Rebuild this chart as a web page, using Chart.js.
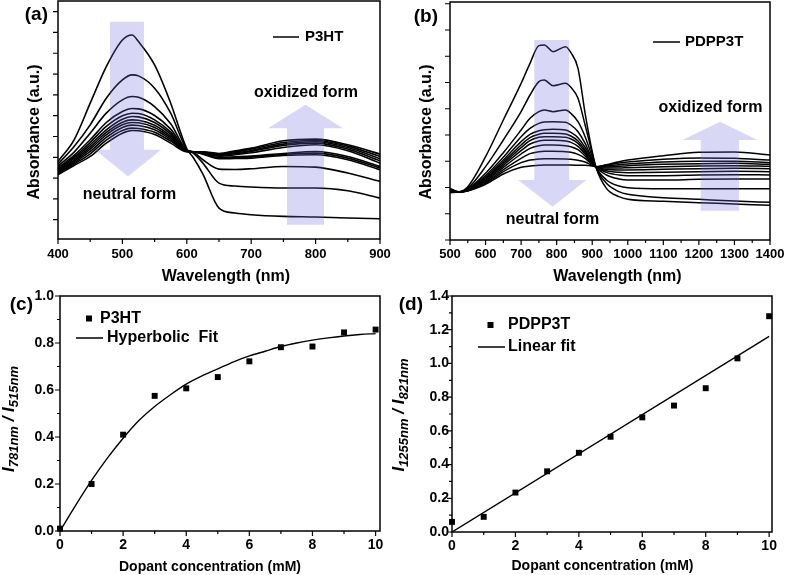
<!DOCTYPE html>
<html>
<head>
<meta charset="utf-8">
<title>P3HT / PDPP3T doping spectra</title>
<script src="https://cdn.jsdelivr.net/npm/chart.js@4.4.1/dist/chart.umd.min.js"></script>
<style>
  body { margin: 0; background: #fff; }
  #fig { position: relative; width: 787px; height: 575px; overflow: hidden; }
  #fig canvas { position: absolute; }
</style>
</head>
<body>
<div id="fig">
  <canvas id="chartA" width="400" height="290" style="left:0;top:0"></canvas>
  <canvas id="chartB" width="397" height="290" style="left:390px;top:0"></canvas>
  <canvas id="chartC" width="400" height="285" style="left:0;top:290px"></canvas>
  <canvas id="chartD" width="397" height="285" style="left:390px;top:290px"></canvas>
</div>
<script>
const FONT = '"Liberation Sans", Arial, Helvetica, sans-serif';

// (a) P3HT absorbance (arbitrary units), neutral -> oxidized
const p3htWavelength = [400, 425, 450, 475, 500, 515, 525, 550, 575, 600, 610, 625, 650, 675, 700, 750, 800, 850, 900];
const p3htCurves = [
  [300, 365, 475, 585, 665, 680, 660, 590, 475, 338, 312, 262, 160, 145, 140, 135, 133, 130, 128],
  [292, 345, 410, 490, 545, 560, 557, 520, 445, 336, 325, 295, 235, 226, 223, 220, 220, 212, 190],
  [286, 328, 385, 445, 485, 495, 493, 465, 413, 334, 328, 305, 277, 276, 278, 285, 283, 265, 240],
  [281, 318, 365, 417, 450, 459, 458, 438, 397, 333, 329, 322, 308, 309, 310, 318, 320, 305, 275],
  [277, 313, 357, 405, 437, 445, 444, 425, 388, 332, 329, 323, 310, 311, 313, 321, 325, 310, 280],
  [274, 309, 350, 395, 427, 435, 434, 417, 382, 332, 329, 324, 312, 314, 316, 324, 330, 315, 285],
  [271, 304, 343, 387, 418, 425, 424, 409, 376, 331, 329, 325, 316, 320, 326, 342, 350, 332, 295],
  [268, 300, 337, 380, 410, 417, 416, 402, 371, 331, 329, 326, 318, 323, 330, 348, 355, 337, 302],
  [265, 296, 330, 372, 402, 409, 408, 395, 366, 330, 329, 327, 320, 326, 333, 352, 359, 342, 308],
  [262, 292, 323, 364, 393, 400, 399, 388, 361, 330, 329, 328, 322, 329, 337, 357, 363, 346, 315],
  [260, 288, 315, 355, 385, 393, 392, 381, 355, 329, 329, 329, 324, 332, 340, 362, 367, 350, 322]
];

// (b) PDPP3T absorbance (arbitrary units), neutral -> oxidized
const pdppWavelength = [500, 525, 550, 600, 650, 700, 725, 750, 765, 790, 825, 840, 860, 880, 900, 910, 940, 975, 1000, 1100, 1200, 1300, 1400];
const pdppCurves = [
  [155, 145, 160, 250, 360, 470, 530, 583, 585, 565, 580, 562, 515, 380, 265, 220, 155, 130, 122, 116, 112, 108, 104],
  [150, 144, 155, 220, 300, 385, 435, 475, 480, 463, 470, 458, 425, 345, 260, 220, 170, 145, 137, 127, 122, 117, 113],
  [148, 144, 153, 200, 262, 330, 365, 385, 390, 385, 390, 380, 355, 310, 250, 220, 180, 162, 157, 154, 154, 154, 154],
  [147, 144, 152, 193, 248, 310, 335, 350, 354, 355, 353, 345, 325, 290, 242, 220, 195, 183, 180, 180, 182, 183, 183],
  [146, 144, 151, 188, 240, 295, 317, 328, 331, 332, 330, 323, 307, 278, 238, 220, 203, 195, 193, 193, 195, 196, 195],
  [146, 144, 150, 185, 234, 285, 307, 317, 320, 320, 318, 312, 297, 270, 235, 220, 208, 203, 202, 203, 205, 206, 205],
  [145, 144, 150, 182, 229, 277, 298, 308, 310, 310, 308, 303, 290, 264, 232, 220, 212, 210, 210, 212, 214, 215, 214],
  [145, 144, 149, 179, 224, 268, 288, 297, 299, 299, 297, 293, 281, 258, 230, 220, 216, 216, 217, 220, 222, 223, 221],
  [144, 144, 149, 176, 218, 258, 275, 283, 285, 285, 283, 280, 271, 252, 228, 220, 219, 221, 223, 227, 229, 230, 227],
  [144, 144, 148, 173, 211, 245, 259, 265, 266, 266, 265, 263, 257, 245, 226, 220, 222, 226, 228, 234, 236, 236, 232],
  [143, 144, 148, 170, 205, 232, 240, 243, 244, 244, 243, 242, 239, 234, 224, 220, 225, 231, 234, 242, 246, 245, 240],
  [142, 144, 147, 167, 198, 218, 222, 224, 225, 225, 225, 225, 224, 224, 222, 220, 226, 235, 240, 253, 263, 264, 255]
];

// (c) P3HT ratio vs dopant concentration
const dopant = [0, 1, 2, 3, 4, 5, 6, 7, 8, 9, 10];
const p3htRatio = [0.01, 0.20, 0.41, 0.575, 0.607, 0.655, 0.722, 0.782, 0.785, 0.845, 0.857];
const p3htFitX = [0, 0.5, 1, 1.5, 2, 2.5, 3, 3.5, 4, 4.5, 5, 5.5, 6, 6.5, 7, 7.5, 8, 8.5, 9, 9.5, 10];
const p3htFitY = [0, 0.11, 0.215, 0.31, 0.395, 0.47, 0.53, 0.58, 0.625, 0.66, 0.69, 0.72, 0.745, 0.765, 0.785, 0.8, 0.812, 0.822, 0.83, 0.836, 0.84];

// (d) PDPP3T ratio vs dopant concentration
const pdppRatio = [0.06, 0.09, 0.234, 0.36, 0.47, 0.565, 0.68, 0.75, 0.853, 1.03, 1.28];
const pdppFitX = [0, 10];
const pdppFitY = [0, 1.16];

const panelDecor = {
  id: 'panelDecor',
  afterDatasetsDraw(chart, args, opts) {
    const ctx = chart.ctx;
    const X = v => chart.scales.x.getPixelForValue(v);
    const Y = v => chart.scales.y.getPixelForValue(v);
    (opts.arrows || []).forEach(a => {
      const mid = (a.head[0] + a.head[1]) / 2;
      const pts = [[a.shaft[0], a.end], [a.shaft[1], a.end], [a.shaft[1], a.base], [a.head[1], a.base],
                   [mid, a.tip], [a.head[0], a.base], [a.shaft[0], a.base]];
      ctx.save();
      ctx.fillStyle = 'rgba(110,110,220,0.27)';
      ctx.beginPath();
      pts.forEach((p, i) => i ? ctx.lineTo(X(p[0]), Y(p[1])) : ctx.moveTo(X(p[0]), Y(p[1])));
      ctx.closePath();
      ctx.fill();
      ctx.restore();
    });
  },
  afterDraw(chart, args, opts) {
    const ctx = chart.ctx, area = chart.chartArea;
    ctx.save();
    ctx.strokeStyle = '#000';
    ctx.fillStyle = '#000';
    ctx.lineWidth = 1.5;
    ctx.strokeRect(area.left, area.top, area.right - area.left, area.bottom - area.top);

    ctx.lineWidth = 1.2;
    (opts.ticks || []).forEach(t => {
      const s = chart.scales[t.axis];
      ctx.beginPath();
      for (let k = Math.ceil(s.min / t.step - 1e-6); k * t.step <= s.max + 1e-6; k++) {
        const v = k * t.step, r = v / t.major;
        const len = Math.abs(r - Math.round(r)) < 1e-6 ? t.len : t.minorLen;
        const p = s.getPixelForValue(v);
        if (t.axis === 'x') { ctx.moveTo(p, area.bottom); ctx.lineTo(p, area.bottom + len); }
        else { ctx.moveTo(area.left, p); ctx.lineTo(area.left - len, p); }
      }
      ctx.stroke();
    });

    ctx.lineWidth = 1.5;
    (opts.lines || []).forEach(l => {
      ctx.beginPath(); ctx.moveTo(l.x0, l.y); ctx.lineTo(l.x1, l.y); ctx.stroke();
    });
    (opts.squares || []).forEach(q => ctx.fillRect(q.x - q.size / 2, q.y - q.size / 2, q.size, q.size));

    ctx.textBaseline = 'middle';
    (opts.texts || []).forEach(t => {
      ctx.save();
      ctx.font = t.font;
      ctx.textAlign = t.align || 'center';
      ctx.translate(t.x, t.y);
      if (t.rot) ctx.rotate(t.rot);
      ctx.fillText(t.text, 0, 0);
      ctx.restore();
    });

    const st = opts.subTitle;
    if (st) {
      ctx.save();
      ctx.translate(st.x, st.y);
      ctx.rotate(-Math.PI / 2);
      ctx.textBaseline = 'alphabetic';
      ctx.textAlign = 'left';
      let total = 0;
      st.parts.forEach(p => { ctx.font = p[1] ? st.sub : st.main; total += ctx.measureText(p[0]).width; });
      let cx = -total / 2;
      st.parts.forEach(p => {
        ctx.font = p[1] ? st.sub : st.main;
        ctx.fillText(p[0], cx, p[1] ? st.shift : 0);
        cx += ctx.measureText(p[0]).width;
      });
      ctx.restore();
    }
    ctx.restore();
  }
};
Chart.register(panelDecor);

function axis(c, horizontal) {
  return {
    type: 'linear', min: c.min, max: c.max,
    afterFit: s => {
      if (horizontal) s.height = c.size; else s.width = c.size;
      s.paddingLeft = 0; s.paddingRight = 0; s.paddingTop = 0; s.paddingBottom = 0;
    },
    grid: { display: false, drawTicks: false },
    border: { display: false },
    ticks: {
      display: c.labels !== false,
      stepSize: c.step, includeBounds: false, autoSkip: false, maxRotation: 0,
      padding: c.pad || 0, color: '#000',
      font: { family: FONT, weight: 'bold', size: c.font || 13 },
      callback: c.fmt || (v => String(v))
    }
  };
}

function panelOptions(c) {
  return {
    responsive: false, animation: false, events: [],
    layout: { padding: { top: c.top, right: c.right, left: 0, bottom: 0 } },
    plugins: { legend: { display: false }, tooltip: { enabled: false }, panelDecor: c.decor },
    scales: { x: axis(c.x, true), y: axis(c.y, false) }
  };
}

function curve(xs, ys, width) {
  return { data: xs.map((x, i) => ({ x, y: ys[i] })), borderColor: '#000', borderWidth: width,
           pointRadius: 0, cubicInterpolationMode: 'monotone', fill: false };
}
function squares(xs, ys) {
  return { data: xs.map((x, i) => ({ x, y: ys[i] })), showLine: false, pointStyle: 'rect',
           pointRadius: 4.2, pointBackgroundColor: '#000', pointBorderWidth: 0, borderColor: '#000', clip: false };
}

const big = 'bold 16px ' + FONT;
const label = 'bold 19px ' + FONT;

new Chart(document.getElementById('chartA'), {
  type: 'line',
  data: { datasets: p3htCurves.map(ys => curve(p3htWavelength, ys, 1.6)) },
  options: panelOptions({
    top: 1, right: 20,
    x: { min: 400, max: 900, step: 100, size: 51, pad: 8 },
    y: { min: 67, max: 782, step: 62.5, size: 58, labels: false },
    decor: {
      ticks: [{ axis: 'x', step: 50, major: 100, len: 5, minorLen: 3 },
              { axis: 'y', step: 62.5, major: 62.5, len: 5, minorLen: 5 }],
      arrows: [{ shaft: [480.7, 533.5], head: [457.5, 560], end: 720, base: 335, tip: 255 },
               { shaft: [755.6, 813], head: [726, 842.5], end: 110, base: 400, tip: 470 }],
      lines: [{ x0: 273, x1: 299, y: 37 }],
      texts: [
        { text: '(a)', x: 48, y: 15, font: label, align: 'right' },
        { text: 'Absorbance (a.u.)', x: 35, y: 132, font: big, rot: -Math.PI / 2 },
        { text: 'Wavelength (nm)', x: 226, y: 277, font: big },
        { text: 'neutral form', x: 129.5, y: 195, font: big },
        { text: 'oxidized form', x: 306, y: 93, font: big },
        { text: 'P3HT', x: 305, y: 37, font: 'bold 15px ' + FONT, align: 'left' }
      ]
    }
  })
});

new Chart(document.getElementById('chartB'), {
  type: 'line',
  data: { datasets: pdppCurves.map(ys => curve(pdppWavelength, ys, 1.5)) },
  options: panelOptions({
    top: 2, right: 17,
    x: { min: 500, max: 1400, step: 100, size: 50, pad: 7 },
    y: { min: 0, max: 714, step: 78.75, size: 60, labels: false },
    decor: {
      ticks: [{ axis: 'x', step: 50, major: 100, len: 5, minorLen: 3 },
              { axis: 'y', step: 78.75, major: 78.75, len: 5, minorLen: 5 }],
      arrows: [{ shaft: [737, 835], head: [692, 884], end: 600, base: 180, tip: 100 },
               { shaft: [1205, 1313], head: [1154, 1365], end: 88, base: 300, tip: 355 }],
      lines: [{ x0: 263, x1: 290, y: 42 }],
      texts: [
        { text: '(b)', x: 48, y: 17, font: label, align: 'right' },
        { text: 'Absorbance (a.u.)', x: 37, y: 132, font: big, rot: -Math.PI / 2 },
        { text: 'Wavelength (nm)', x: 227.5, y: 277, font: big },
        { text: 'neutral form', x: 162.5, y: 220, font: big },
        { text: 'oxidized form', x: 320.5, y: 108, font: big },
        { text: 'PDPP3T', x: 295, y: 42, font: 'bold 15px ' + FONT, align: 'left' }
      ]
    }
  })
});

new Chart(document.getElementById('chartC'), {
  type: 'line',
  data: { datasets: [squares(dopant, p3htRatio), curve(p3htFitX, p3htFitY, 1.4)] },
  options: panelOptions({
    top: 6, right: 20,
    x: { min: 0, max: 10.14, step: 2, size: 44, pad: 6, font: 14 },
    y: { min: 0, max: 1.0, step: 0.2, size: 60, pad: 6, font: 14, fmt: v => v.toFixed(1) },
    decor: {
      ticks: [{ axis: 'x', step: 1, major: 2, len: 5, minorLen: 3 },
              { axis: 'y', step: 0.1, major: 0.2, len: 5, minorLen: 3 }],
      lines: [{ x0: 76, x1: 103, y: 48 }],
      squares: [{ x: 89, y: 28.5, size: 6 }],
      texts: [
        { text: '(c)', x: 33, y: 15, font: label, align: 'right' },
        { text: 'Dopant concentration (mM)', x: 210, y: 277, font: 'bold 14px ' + FONT },
        { text: 'P3HT', x: 100, y: 28.5, font: big, align: 'left' },
        { text: 'Hyperbolic  Fit', x: 107, y: 48, font: big, align: 'left' }
      ],
      subTitle: { x: 14, y: 129, shift: 4, main: 'italic bold 17px ' + FONT, sub: 'italic bold 13px ' + FONT,
                  parts: [['I', 0], ['781nm', 1], [' / ', 0], ['I', 0], ['515nm', 1]] }
    }
  })
});

new Chart(document.getElementById('chartD'), {
  type: 'line',
  data: { datasets: [squares(dopant, pdppRatio), curve(pdppFitX, pdppFitY, 1.4)] },
  options: panelOptions({
    top: 6, right: 15,
    x: { min: 0, max: 10.09, step: 2, size: 43, pad: 6, font: 14 },
    y: { min: 0, max: 1.4, step: 0.2, size: 62, pad: 3, font: 14, fmt: v => v.toFixed(1) },
    decor: {
      ticks: [{ axis: 'x', step: 1, major: 2, len: 5, minorLen: 3 },
              { axis: 'y', step: 0.1, major: 0.2, len: 5, minorLen: 3 }],
      lines: [{ x0: 88, x1: 115, y: 57 }],
      squares: [{ x: 100.5, y: 35, size: 6 }],
      texts: [
        { text: '(d)', x: 33, y: 15, font: label, align: 'right' },
        { text: 'Dopant concentration (mM)', x: 212.5, y: 276, font: 'bold 14px ' + FONT },
        { text: 'PDPP3T', x: 118, y: 35, font: big, align: 'left' },
        { text: 'Linear fit', x: 118, y: 57, font: big, align: 'left' }
      ],
      subTitle: { x: 14, y: 125, shift: 4, main: 'italic bold 17px ' + FONT, sub: 'italic bold 13px ' + FONT,
                  parts: [['I', 0], ['1255nm', 1], [' / ', 0], ['I', 0], ['821nm', 1]] }
    }
  })
});
</script>
</body>
</html>
